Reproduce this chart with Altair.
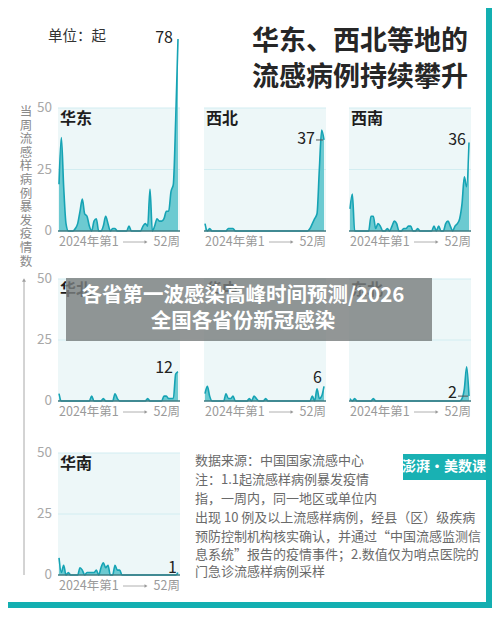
import altair as alt
import pandas as pd

# ---------------- data ----------------
weeks = list(range(1, 53))
regions = ["华东", "西北", "西南", "华北", "华中", "东北", "华南"]

huadong = [19, 38, 18, 3, 0, 0, 0, 1, 3, 8,
           13, 7, 6, 2, 0, 4, 5, 0, 0, 2,
           6, 3, 0, 1, 1, 0, 0, 0, 0, 0,
           2, 0, 0, 0, 0, 0, 2, 3, 2, 17,
           0, 2, 5, 4, 4, 5, 8, 8, 16, 19,
           45, 78]
xibei = [3, 0, 1, 0, 0, 0, 0, 0, 0, 0,
         1, 1, 1, 0, 0, 0, 0, 0, 0, 0,
         0, 0, 0, 0, 0, 0, 0, 0, 0, 0,
         0, 0, 0, 0, 0, 0, 0, 0, 0, 0,
         0, 0, 0, 0, 0, 1, 3, 5, 7, 25,
         41, 37]
xinan = [9, 15, 0, 0, 0, 0, 0, 0, 0, 6,
         6, 1, 3, 2, 0, 0, 1, 0, 2, 4,
         3, 0, 0, 1, 1, 2, 2, 0, 0, 1,
         0, 0, 0, 0, 0, 0, 2, 0, 2, 0,
         0, 3, 4, 2, 0, 2, 3, 5, 11, 22,
         18, 36]
huabei = [3, 0, 0, 0, 0, 0, 0, 0, 0, 0,
          0, 0, 0, 0, 2, 0, 0, 0, 0, 1,
          0, 0, 0, 0, 3, 1, 0, 0, 0, 0,
          0, 0, 0, 0, 0, 0, 0, 0, 1, 0,
          0, 0, 0, 0, 0, 2, 2, 1, 1, 1,
          11, 12]
huazhong = [3, 6, 2, 0, 0, 0, 0, 0, 0, 3,
            1, 1, 2, 0, 0, 0, 0, 0, 0, 1,
            0, 2, 1, 0, 0, 0, 1, 0, 0, 0,
            0, 0, 0, 0, 0, 0, 0, 0, 0, 0,
            0, 0, 0, 0, 0, 0, 2, 0, 5, 1,
            2, 6]
dongbei = [1, 0, 1, 0, 0, 0, 0, 0, 0, 0,
           1, 0, 0, 0, 0, 0, 0, 0, 0, 0,
           0, 0, 0, 0, 0, 0, 0, 0, 0, 0,
           0, 0, 0, 0, 0, 0, 0, 0, 0, 0,
           0, 0, 0, 0, 0, 0, 0, 0, 1, 5,
           14, 2]
huanan = [7, 1, 4, 0, 1, 0, 0, 0, 0, 3,
          2, 0, 1, 1, 1, 1, 2, 0, 3, 5,
          3, 4, 0, 0, 4, 2, 2, 0, 0, 0,
          0, 0, 0, 0, 0, 0, 0, 0, 0, 0,
          0, 0, 0, 0, 0, 0, 0, 0, 0, 0,
          0, 1]
series = [huadong, xibei, xinan, huabei, huazhong, dongbei, huanan]
y_ticks = [0, 25, 50]

title_lines = ["华东、西北等地的", "流感病例持续攀升"]
unit_text = "单位：起"
y_title = "当周流感样病例暴发疫情数"
x_start_label = "2024年第1"
x_end_label = "52周"
note_lines = [
    "数据来源：中国国家流感中心",
    "注：1.1起流感样病例暴发疫情",
    "指，一周内，同一地区或单位内",
    "出现 10 例及以上流感样病例，经县（区）级疾病",
    "预防控制机构核实确认，并通过“中国流感监测信",
    "息系统”报告的疫情事件；2.数值仅为哨点医院的",
    "门急诊流感样病例采样",
]
banner_lines = ["各省第一波感染高峰时间预测/2026", "全国各省份新冠感染"]
logo_text = "澎湃·美数课"

# ---------------- layout / style ----------------
OFF = 8  # page margin
FONT = "Noto Sans CJK SC"
TEAL = "#13afb1"
PANEL_BG = "#edf7f8"
GRID = "#d2edf1"
AREA = "#6ccad1"
LINE = "#16a3b4"
BASE = "#3c7b82"

COL_X = [58, 204, 349]
ROW_Y = [(108, 231), (279, 401), (453, 575)]
PANEL_W = 122
grid_pos = [(0, 0), (1, 0), (2, 0), (0, 1), (1, 1), (2, 1), (0, 2)]
label_dx = [-5, -9, -3, -5, -2, -12, -1]
label_dy = [-1, -1, -2, -4, -8, -3, -5]
leader = [False, True, False, False, False, True, False]

one = pd.DataFrame({"k": [0]})


def px(v):
    return alt.value(v - OFF)


def text_at(txt, x, y, size, color, weight="normal", align="left",
            baseline="middle", **kw):
    return alt.Chart(one).mark_text(
        fontSize=size, color=color, fontWeight=weight, align=align,
        baseline=baseline, font=FONT, **kw
    ).encode(x=px(x), y=px(y), text=alt.value(txt))


def panel(i):
    name = regions[i]
    vals = series[i]
    col, row = grid_pos[i]
    x0 = COL_X[col]
    top, base = ROW_Y[row]
    xs = alt.Scale(domain=[1, 52], range=[x0 + 1 - OFF, x0 + 120 - OFF],
                   nice=False, zero=False)
    ys = alt.Scale(domain=[0, 50], range=[base - OFF, top - OFF],
                   nice=False, zero=False)
    X = alt.X("week:Q", scale=xs, axis=None)
    Y = alt.Y("value:Q", scale=ys, axis=None)
    d = pd.DataFrame({"week": weeks, "value": vals})

    bg = alt.Chart(one).mark_rect(color=PANEL_BG).encode(
        x=px(x0), x2=px(x0 + PANEL_W), y=px(top), y2=px(base))
    grid = alt.Chart(pd.DataFrame({"value": [25, 50]})).mark_rule(
        color=GRID, strokeWidth=1).encode(y=Y, x=px(x0), x2=px(x0 + PANEL_W))
    area = alt.Chart(d).mark_area(color=AREA, interpolate="monotone").encode(x=X, y=Y)
    line = alt.Chart(d).mark_line(color=LINE, strokeWidth=1.6,
                                  interpolate="monotone").encode(x=X, y=Y)
    zero = alt.Chart(pd.DataFrame({"value": [0]})).mark_rule(
        color=BASE, strokeWidth=1.5).encode(y=Y, x=px(x0), x2=px(x0 + PANEL_W))
    last = d.tail(1)
    lab = alt.Chart(last).mark_text(
        align="right", baseline="middle", dx=label_dx[i], dy=label_dy[i],
        fontSize=16, color="#222222", font=FONT
    ).encode(x=X, y=Y, text="value:Q")
    layers = [bg, grid, area, line, zero, lab]
    if leader[i]:
        lx = x0 + 120 + label_dx[i] + 1
        layers.append(alt.Chart(last).mark_rule(color="#555555", strokeWidth=1).encode(
            y=Y, x=px(lx), x2=px(x0 + 119)))
    # region name
    layers.append(text_at(name, x0 + 2, top + 11, 16, "#1e1e1e", weight="bold"))
    # x labels
    layers.append(text_at(x_start_label, x0 + 1, base + 11, 12.5, "#9a9a9a"))
    layers.append(text_at(x_end_label, x0 + PANEL_W, base + 11, 12.5, "#9a9a9a",
                          align="right"))
    layers.append(alt.Chart(one).mark_rule(color="#b0b0b0", strokeWidth=1).encode(
        x=px(x0 + 65), x2=px(x0 + 87), y=px(base + 11)))
    layers.append(alt.Chart(one).mark_point(
        shape="triangle-right", filled=True, size=12, color="#9a9a9a", opacity=1
    ).encode(x=px(x0 + 88), y=px(base + 11)))
    if col == 0:
        layers.append(alt.Chart(pd.DataFrame({"value": y_ticks})).mark_text(
            align="right", baseline="middle", fontSize=13.5, color="#a8a8a8", font=FONT
        ).encode(x=px(52), y=Y, text="value:Q"))
    return alt.layer(*layers)


panels = [panel(i) for i in range(len(regions))]

deco = []
# header
deco.append(text_at(unit_text, 48, 37, 14.5, "#333333"))
deco.append(text_at(title_lines[0], 468, 42, 27, "#262626", weight="bold", align="right"))
deco.append(text_at(title_lines[1], 468, 78, 27, "#262626", weight="bold", align="right"))
# vertical axis title (one glyph per line) and arrow
for k, ch in enumerate(y_title):
    deco.append(text_at(ch, 26, 112 + 13.6 * k, 12.5, "#8a8a8a", align="center"))
deco.append(alt.Chart(one).mark_rule(color="#a8a8a8", strokeWidth=1).encode(
    x=px(24), y=px(281), y2=px(575)))
deco.append(alt.Chart(one).mark_point(
    shape="triangle-up", filled=True, size=16, color="#a0a0a0", opacity=1
).encode(x=px(24), y=px(280)))
# notes
note_y = [461, 480, 498.5, 518, 536.5, 555, 572]
for t, yy in zip(note_lines, note_y):
    deco.append(text_at(t, 195, yy, 13, "#6a6a6a"))
# logo
deco.append(alt.Chart(one).mark_rect(color="#19b1b3").encode(
    x=px(403), x2=px(486), y=px(454), y2=px(480)))
deco.append(text_at(logo_text, 444, 467, 14, "#ffffff", weight="bold", align="center"))
# overlay banner
deco.append(alt.Chart(one).mark_rect(color="#7a7f7f", opacity=0.82).encode(
    x=px(66), x2=px(432), y=px(278), y2=px(341)))
deco.append(text_at(banner_lines[0], 243, 296, 20.5, "#ffffff", weight="bold", align="center"))
deco.append(text_at(banner_lines[1], 243, 322, 20.5, "#ffffff", weight="bold", align="center"))
# frame (right and bottom, drawn inside the drawable page area)
deco.append(alt.Chart(one).mark_rect(color=TEAL).encode(
    x=px(486), x2=px(492), y=px(8), y2=px(608)))
deco.append(alt.Chart(one).mark_rect(color=TEAL).encode(
    x=px(8), x2=px(492), y=px(602), y2=px(608)))

chart = alt.layer(*panels, *deco).resolve_scale(
    x="independent", y="independent"
).properties(
    width=484, height=600,
    autosize=alt.AutoSizeParams(type="none"),
    padding=0,
    background="#ffffff",
).configure_view(stroke=None)

chart.save("out.html", embed_options={"renderer": "svg", "actions": False})
